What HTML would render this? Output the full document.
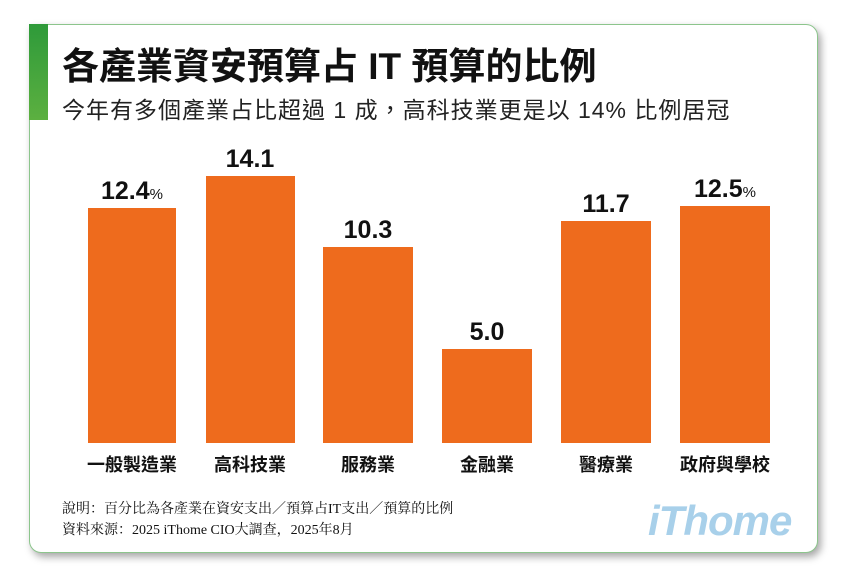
<!DOCTYPE html>
<html><head><meta charset="utf-8"><style>
body{margin:0;width:846px;height:576px;background:#fff;position:relative;overflow:hidden;font-family:"Liberation Sans","Noto Sans CJK TC",sans-serif}
.card{position:absolute;left:29px;top:24px;width:787px;height:527px;border:1px solid #8cc58c;border-radius:0 12px 12px 12px;box-shadow:3px 4px 8px rgba(0,0,0,.35);background:#fff}
.gb{position:absolute;left:29px;top:24px;width:19px;height:96px;background:linear-gradient(#2e9a3a,#5cb040)}
.t{position:absolute;left:62px;top:36px;font-size:37px;font-weight:bold;color:#111;white-space:nowrap}
.s{position:absolute;left:62px;top:91px;font-size:23px;letter-spacing:1px;color:#222;white-space:nowrap}
.bar{position:absolute;background:#ee6b1d;bottom:133px}
.v{position:absolute;font-size:25px;font-weight:bold;color:#111;text-align:center;width:120px}
.v small{font-size:15px;font-weight:normal}
.l{position:absolute;top:451px;font-size:18px;font-weight:bold;color:#111;text-align:center;width:120px}
.n{position:absolute;left:62px;font-size:14px;color:#111;font-family:"Liberation Serif","Noto Serif CJK SC",serif;white-space:nowrap}
.logo{position:absolute;left:648px;top:497px;font-size:42px;font-weight:bold;font-style:italic;color:#a8d0ea;letter-spacing:-1px}
</style></head><body>
<div class="card"></div><div class="gb"></div>
<div class="t">各產業資安預算占 IT 預算的比例</div>
<div class="s">今年有多個產業占比超過 1 成，高科技業更是以 14% 比例居冠</div>
<div class="bar" style="left:88px;width:88px;top:208px"></div>
<div class="bar" style="left:206px;width:89px;top:176px"></div>
<div class="bar" style="left:323px;width:90px;top:247px"></div>
<div class="bar" style="left:442px;width:90px;top:349px"></div>
<div class="bar" style="left:561px;width:90px;top:221px"></div>
<div class="bar" style="left:680px;width:90px;top:206px"></div>
<div class="v" style="left:72px;top:177px">12.4<small>%</small></div>
<div class="v" style="left:190px;top:145px">14.1</div>
<div class="v" style="left:308px;top:216px">10.3</div>
<div class="v" style="left:427px;top:318px">5.0</div>
<div class="v" style="left:546px;top:190px">11.7</div>
<div class="v" style="left:665px;top:175px">12.5<small>%</small></div>
<div class="l" style="left:72px">一般製造業</div>
<div class="l" style="left:190px">高科技業</div>
<div class="l" style="left:308px">服務業</div>
<div class="l" style="left:427px">金融業</div>
<div class="l" style="left:546px">醫療業</div>
<div class="l" style="left:665px">政府與學校</div>
<div class="n" style="top:498px">說明：百分比為各產業在資安支出／預算占IT支出／預算的比例</div>
<div class="n" style="top:519px">資料來源：2025 iThome CIO大調查，2025年8月</div>
<div class="logo">iThome</div>
</body></html>
